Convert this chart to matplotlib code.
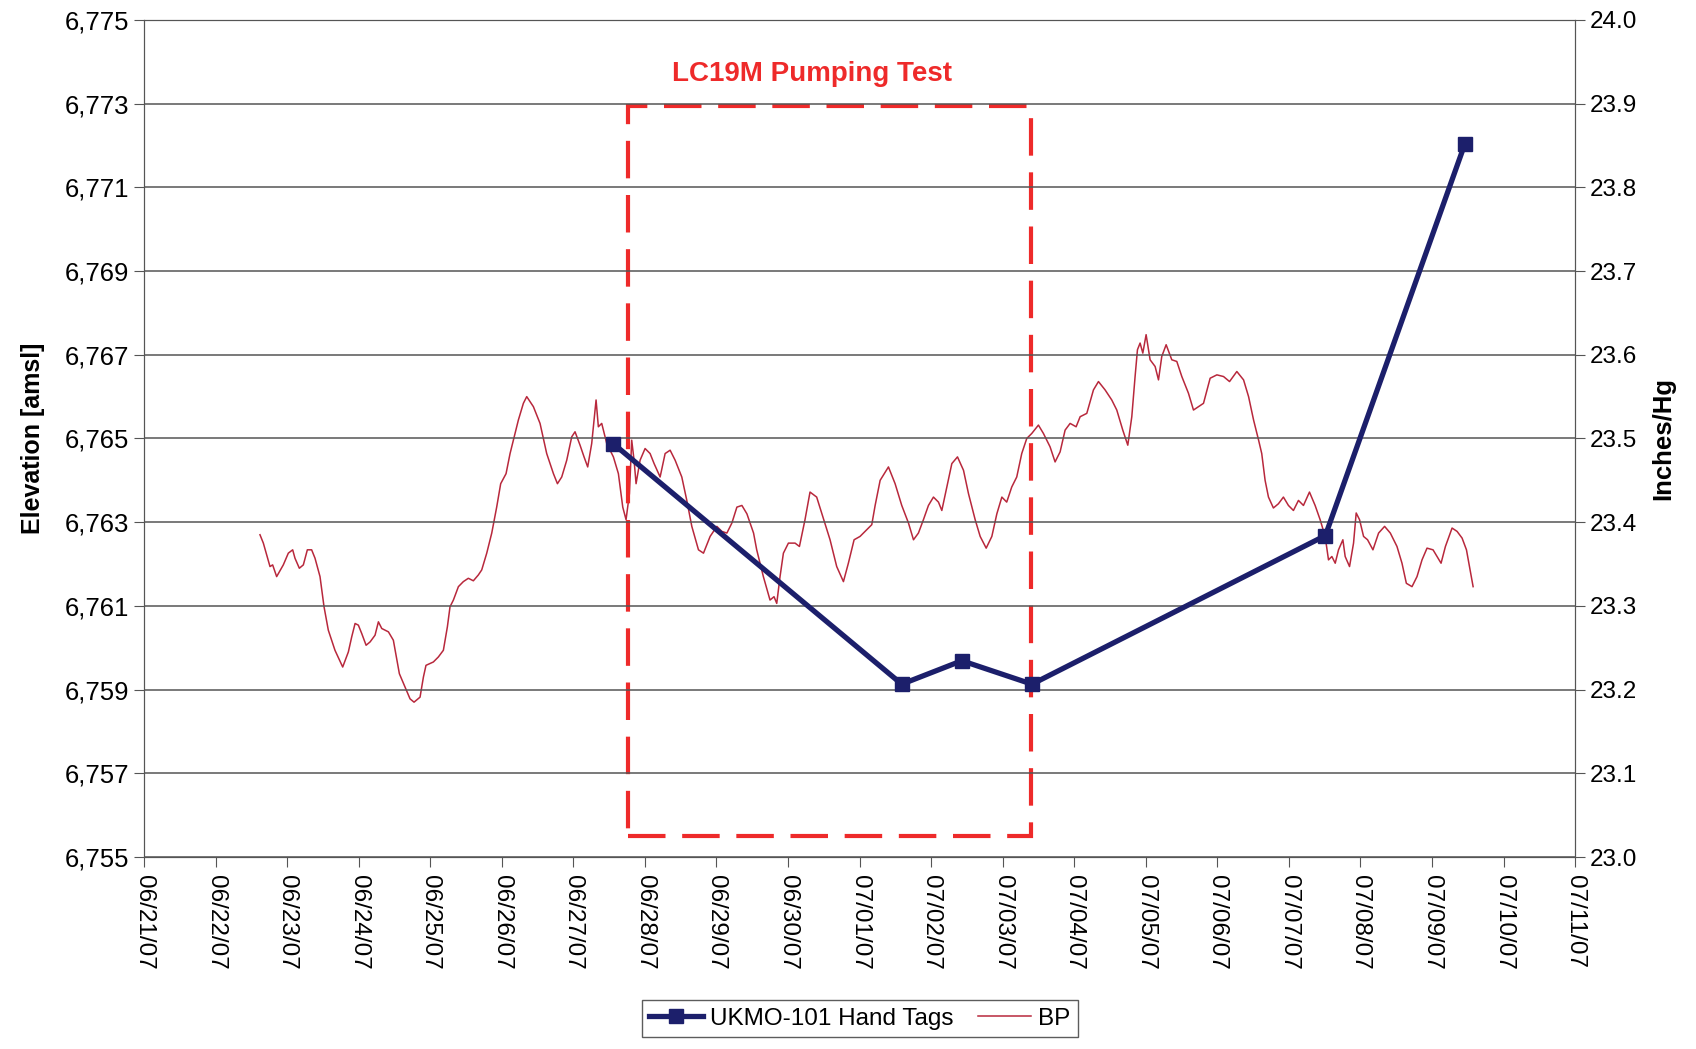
import matplotlib
matplotlib.use('Agg')
import matplotlib.pyplot as plt
import matplotlib.dates as mdates
from matplotlib.patches import Rectangle
from matplotlib.ticker import FixedLocator, MultipleLocator, FuncFormatter, FormatStrFormatter
import numpy as np
import pandas as pd

# days after 06/21/07 00:00
start = pd.Timestamp('2007-06-21')

# UKMO-101 hand tags (elevation, ft amsl)
tag_day = [6.555, 10.59, 11.43, 12.41, 16.51, 18.46]
tag_elev = [6764.88, 6759.13, 6759.69, 6759.13, 6762.68, 6772.04]

# barometric pressure (inches Hg)
bp_day = [
    1.621, 1.668, 1.761, 1.798, 1.854, 1.947, 2.017, 2.078, 2.110, 2.171,
    2.227, 2.283, 2.343, 2.390, 2.460, 2.516, 2.576, 2.669, 2.777, 2.856,
    2.903, 2.950, 2.996, 3.043, 3.104, 3.160, 3.229, 3.276, 3.323, 3.416,
    3.485, 3.569, 3.648, 3.718, 3.774, 3.858, 3.905, 3.941, 4.044, 4.114,
    4.184, 4.240, 4.277, 4.324, 4.394, 4.463, 4.533, 4.603, 4.673, 4.720,
    4.790, 4.860, 4.929, 4.985, 5.060, 5.116, 5.162, 5.232, 5.302, 5.349,
    5.442, 5.535, 5.628, 5.722, 5.778, 5.838, 5.908, 5.978, 6.024, 6.094,
    6.150, 6.201, 6.257, 6.318, 6.350, 6.397, 6.467, 6.560, 6.630, 6.691,
    6.737, 6.784, 6.816, 6.849, 6.877, 6.933, 7.003, 7.073, 7.129, 7.213,
    7.283, 7.353, 7.423, 7.516, 7.586, 7.656, 7.749, 7.819, 7.912, 8.006,
    8.076, 8.146, 8.216, 8.286, 8.356, 8.426, 8.519, 8.563, 8.656, 8.749,
    8.805, 8.843, 8.889, 8.936, 9.006, 9.099, 9.160, 9.238, 9.308, 9.401,
    9.471, 9.588, 9.681, 9.775, 9.844, 9.924, 10.007, 10.101, 10.171, 10.218,
    10.288, 10.404, 10.497, 10.590, 10.684, 10.754, 10.823, 10.893, 10.963, 11.033,
    11.103, 11.150, 11.220, 11.290, 11.369, 11.453, 11.523, 11.616, 11.686, 11.770,
    11.849, 11.919, 11.989, 12.057, 12.127, 12.197, 12.267, 12.337, 12.407, 12.500,
    12.570, 12.663, 12.733, 12.803, 12.873, 12.943, 13.027, 13.083, 13.176, 13.269,
    13.339, 13.432, 13.525, 13.595, 13.679, 13.749, 13.805, 13.851, 13.884, 13.921,
    13.959, 14.005, 14.061, 14.131, 14.178, 14.224, 14.285, 14.364, 14.434, 14.504,
    14.597, 14.667, 14.737, 14.807, 14.900, 14.994, 15.087, 15.171, 15.273, 15.367,
    15.437, 15.507, 15.577, 15.621, 15.668, 15.715, 15.784, 15.854, 15.924, 15.994,
    16.064, 16.134, 16.204, 16.288, 16.367, 16.437, 16.507, 16.554, 16.601, 16.648,
    16.694, 16.755, 16.787, 16.848, 16.904, 16.941, 16.988, 17.044, 17.100, 17.175,
    17.254, 17.338, 17.418, 17.511, 17.581, 17.642, 17.721, 17.791, 17.861, 17.931,
    18.015, 18.071, 18.127, 18.188, 18.281, 18.351, 18.421, 18.482, 18.575,
]
bp_inhg = [
    23.385, 23.375, 23.347, 23.349, 23.335, 23.349, 23.363, 23.367, 23.357, 23.345,
    23.349, 23.367, 23.367, 23.357, 23.335, 23.299, 23.271, 23.247, 23.227, 23.245,
    23.263, 23.279, 23.277, 23.267, 23.253, 23.257, 23.265, 23.281, 23.273, 23.269,
    23.259, 23.219, 23.203, 23.189, 23.185, 23.191, 23.215, 23.229, 23.233, 23.239,
    23.247, 23.275, 23.299, 23.307, 23.323, 23.329, 23.333, 23.330, 23.337, 23.343,
    23.363, 23.387, 23.418, 23.446, 23.458, 23.482, 23.498, 23.522, 23.542, 23.550,
    23.538, 23.518, 23.482, 23.458, 23.446, 23.454, 23.474, 23.502, 23.508, 23.492,
    23.478, 23.466, 23.494, 23.546, 23.514, 23.518, 23.494, 23.478, 23.458, 23.418,
    23.403, 23.434, 23.498, 23.474, 23.446, 23.474, 23.488, 23.482, 23.470, 23.454,
    23.482, 23.486, 23.474, 23.454, 23.426, 23.395, 23.367, 23.363, 23.383, 23.395,
    23.389, 23.387, 23.399, 23.418, 23.420, 23.410, 23.387, 23.367, 23.335, 23.307,
    23.311, 23.303, 23.335, 23.363, 23.375, 23.375, 23.371, 23.403, 23.436, 23.430,
    23.411, 23.379, 23.347, 23.329, 23.351, 23.379, 23.383, 23.391, 23.397, 23.420,
    23.450, 23.466, 23.446, 23.420, 23.399, 23.379, 23.387, 23.403, 23.420, 23.430,
    23.424, 23.414, 23.442, 23.470, 23.478, 23.462, 23.434, 23.403, 23.383, 23.369,
    23.383, 23.410, 23.430, 23.424, 23.442, 23.454, 23.482, 23.500, 23.506, 23.516,
    23.506, 23.490, 23.472, 23.484, 23.510, 23.518, 23.514, 23.526, 23.530, 23.558,
    23.568, 23.558, 23.546, 23.534, 23.510, 23.492, 23.526, 23.574, 23.606, 23.614,
    23.602, 23.624, 23.594, 23.586, 23.570, 23.598, 23.612, 23.594, 23.592, 23.574,
    23.554, 23.534, 23.538, 23.542, 23.572, 23.576, 23.574, 23.568, 23.580, 23.570,
    23.550, 23.522, 23.498, 23.482, 23.450, 23.430, 23.417, 23.422, 23.430, 23.420,
    23.414, 23.426, 23.420, 23.436, 23.420, 23.403, 23.383, 23.355, 23.359, 23.351,
    23.367, 23.379, 23.359, 23.347, 23.375, 23.411, 23.403, 23.383, 23.379, 23.367,
    23.387, 23.395, 23.387, 23.371, 23.351, 23.327, 23.323, 23.335, 23.355, 23.369,
    23.367, 23.359, 23.351, 23.371, 23.393, 23.389, 23.381, 23.367, 23.323,
]

# pumping test window
test_start, test_end = 6.77, 12.39
test_low, test_high = 6755.50, 6772.94

elev_ticks = [6755, 6757, 6759, 6761, 6763, 6765, 6767, 6769, 6771, 6773, 6775]


def to_date(days):
    return start + pd.to_timedelta(np.asarray(days), unit='D')


plt.rcParams['font.family'] = ['Liberation Sans', 'DejaVu Sans']

fig = plt.figure(figsize=(16.96, 10.49), dpi=100)
ax = fig.add_axes([0.0849, 0.183, 0.8438, 0.798])
ax2 = ax.twinx()

bp_line, = ax2.plot(to_date(bp_day), bp_inhg, color='#b8283c', lw=1.1, label='BP')
tag_line, = ax.plot(to_date(tag_day), tag_elev, color='#1c1f6b', lw=3.8, marker='s',
                    markersize=10, label='UKMO-101 Hand Tags')

# hand tags above the BP trace
ax.set_zorder(ax2.get_zorder() + 1)
ax.patch.set_visible(False)

x0 = mdates.date2num(to_date([test_start])[0])
x1 = mdates.date2num(to_date([test_end])[0])
ax.add_patch(Rectangle((x0, test_low), x1 - x0, test_high - test_low, fill=False,
                       edgecolor='#ee2a2a', lw=3, linestyle=(0, (9, 4))))
ax.text(to_date([9.33])[0], 6773.72, 'LC19M Pumping Test', color='#ee2a2a',
        fontsize=20, fontweight='bold', ha='center', va='center')

ax.set_xlim(to_date([0])[0], to_date([20])[0])
ax.set_ylim(6755, 6775)
ax2.set_ylim(23.0, 24.0)

ax.xaxis.set_major_locator(mdates.DayLocator())
ax.xaxis.set_major_formatter(mdates.DateFormatter('%m/%d/%y'))
ax.yaxis.set_major_locator(FixedLocator(elev_ticks))
ax.yaxis.set_major_formatter(FuncFormatter(lambda v, p: '{:,.0f}'.format(v)))
ax2.yaxis.set_major_locator(MultipleLocator(0.1))
ax2.yaxis.set_major_formatter(FormatStrFormatter('%.1f'))

for lab in ax.get_xticklabels():
    lab.set_rotation(-90)
ax.tick_params(axis='x', labelsize=17.5, length=7, color='#555555', pad=6)
ax.tick_params(axis='y', labelsize=18.5, length=7, color='#555555')
ax2.tick_params(axis='y', labelsize=17.5, length=7, color='#555555')

ax.grid(axis='y', color='#555555', lw=1.1)
for a in (ax, ax2):
    for s in a.spines.values():
        s.set_color('#555555')

ax.set_ylabel('Elevation [amsl]', fontsize=18, fontweight='bold', labelpad=14)
ax2.set_ylabel('Inches/Hg', fontsize=18.5, fontweight='bold', labelpad=10)

fig.legend(handles=[tag_line, bp_line], loc='center', bbox_to_anchor=(0.507, 0.029),
           ncol=2, fontsize=17.5, frameon=True, fancybox=False, edgecolor='#333333',
           handlelength=2.2, handletextpad=0.3, columnspacing=1.0, borderpad=0.3)

fig.savefig('out.png', dpi=100)
plt.close(fig)
